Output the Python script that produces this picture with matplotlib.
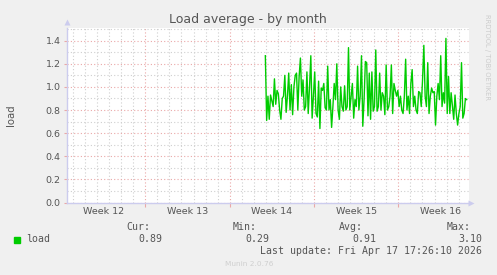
import numpy as np
import matplotlib
matplotlib.use('Agg')
import matplotlib.pyplot as plt
from matplotlib.ticker import MultipleLocator

# --- data ---
week_labels = ['Week 12', 'Week 13', 'Week 14', 'Week 15', 'Week 16']
week_centers = [-3.5, 3.5, 10.5, 17.5, 24.5]      # days, 0 = start of week 13
week_bounds = [0, 7, 14, 21]
data_start_day, data_end_day = 9.96, 26.67

# load average samples, left to right (one list per stretch of the plot)
load_part1 = [1.27, 0.71, 0.92, 0.72, 0.93, 0.88, 0.83, 1.07, 0.85, 0.97, 0.94, 0.80, 0.72,
              0.90, 0.92, 1.10, 0.78, 0.92, 1.12, 0.80, 1.02, 0.76, 1.00, 1.10, 1.12, 0.80,
              1.09, 1.25, 0.92, 1.06, 0.80, 0.83, 1.13, 0.77, 1.00, 1.27, 0.73, 0.92]
load_part2 = [1.13, 0.77, 0.74, 1.05, 0.64, 0.99, 0.97, 1.03, 0.82, 0.80, 1.18, 0.80, 0.89,
              0.65, 0.83, 1.03, 0.89, 1.20, 0.80, 0.72, 1.00, 0.83, 0.79, 1.01, 0.80, 0.83,
              1.34, 0.80, 0.92, 1.03, 0.73, 0.89, 0.83, 1.18, 0.80, 0.92, 1.27, 0.66, 0.89, 1.22]
load_part3 = [1.21, 0.75, 1.12, 0.72, 1.13, 0.79, 0.83, 1.32, 0.79, 0.83, 1.12, 0.80, 0.95,
              0.92, 0.76, 1.19, 0.80, 0.83, 0.92, 1.19, 0.77, 1.03, 0.97, 0.92, 0.97, 0.83,
              0.92, 0.80, 0.77, 0.92, 1.24, 0.80, 0.92, 0.77, 1.03, 1.15, 0.83, 0.92, 0.80]
load_part4 = [0.77, 0.96, 0.95, 0.83, 1.06, 1.36, 0.92, 0.83, 1.21, 0.77, 0.92, 0.99, 0.95,
              0.96, 0.67, 0.92, 1.03, 0.89, 1.27, 0.83, 0.95, 0.86, 1.42, 0.77, 1.09, 0.77,
              0.95, 0.83, 0.72, 0.93, 0.77, 0.67, 0.77, 0.83, 1.21, 0.73, 0.77, 0.90, 0.89]

stat_names = ['Cur:', 'Min:', 'Avg:', 'Max:']
stat_values = ['0.89', '0.29', '0.91', '3.10']
last_update = 'Last update: Fri Apr 17 17:26:10 2026'

load = np.array(load_part1 + load_part2 + load_part3 + load_part4)
days = np.linspace(data_start_day, data_end_day, len(load))

# --- figure ---
W, H = 497, 275
bg = '#f0f0f0'
txt = '#555555'
fig = plt.figure(figsize=(W / 100, H / 100), dpi=100, facecolor=bg)
L, R, T, B = 67, 469, 28, 202.5
ax = fig.add_axes([L / W, 1 - B / H, (R - L) / W, (B - T) / H])
ax.set_facecolor('white')

ax.plot(days, load, color='#00cc00', lw=1.0, zorder=3)

ax.set_xlim(-6.5, 26.86)
ax.set_ylim(0, 1.51)

ax.yaxis.set_major_locator(MultipleLocator(0.2))
ax.yaxis.set_minor_locator(MultipleLocator(0.1))
ax.set_xticks(week_bounds)
ax.set_xticks(np.arange(-6, 27), minor=True)
ax.set_xticklabels([])
ax.set_yticks(np.arange(0, 1.41, 0.2))
ax.set_yticklabels(['%.1f' % v for v in np.arange(0, 1.41, 0.2)], fontsize=6.8, color=txt)

ax.grid(which='major', color='#eaa8a8', ls=(0, (1, 2)), lw=0.8)
ax.grid(which='minor', color='#cfcfcf', ls=(0, (1, 2)), lw=0.8)
ax.tick_params(which='major', length=2.5, color='#eaa8a8', pad=2)
ax.tick_params(which='minor', length=0)
ax.tick_params(axis='x', which='major', length=3)

for s in ['top', 'right']:
    ax.spines[s].set_visible(False)
for s in ['left', 'bottom']:
    ax.spines[s].set_color('#ccccee')
    ax.spines[s].set_linewidth(1)
ax.set_axisbelow(True)

# axis arrows
ax.plot([0], [1.035], transform=ax.transAxes, marker='^', ms=4.5, color='#ccccee',
        clip_on=False, mec='none')
ax.plot([1.006], [0], transform=ax.transAxes, marker='>', ms=4.5, color='#ccccee',
        clip_on=False, mec='none')

for lbl, c in zip(week_labels, week_centers):
    ax.text(c, -0.05, lbl, transform=ax.get_xaxis_transform(), ha='center', va='center',
            fontsize=6.8, color=txt)

ax.set_ylabel('load', fontsize=7.3, color=txt)
ax.yaxis.set_label_coords(-51 / (R - L), 0.5)

fig.text(248 / W, 1 - 19 / H, 'Load average - by month', ha='center', va='center',
         fontsize=9, color=txt)
fig.text(487 / W, 1 - 57 / H, 'RRDTOOL / TOBI OETIKER', rotation=270, ha='center',
         va='center', fontsize=4.9, color='#cccccc')

# legend / stats block
fig.patches.append(plt.Rectangle((14 / W, 1 - 242.7 / H), 6 / W, 6 / H,
                                 transform=fig.transFigure, color='#00cc00'))
mono = dict(family='DejaVu Sans Mono', fontsize=7.1, color=txt, va='center')
fig.text(26.5 / W, 1 - 239.5 / H, 'load', ha='left', **mono)
name_right = [150.5, 256.5, 363, 470.5]
val_right = [162.5, 269, 376, 482]
for n, v, xn, xv in zip(stat_names, stat_values, name_right, val_right):
    fig.text(xn / W, 1 - 227.5 / H, n, ha='right', **mono)
    fig.text(xv / W, 1 - 239.5 / H, v, ha='right', **mono)
fig.text(482 / W, 1 - 251.5 / H, last_update, ha='right', **mono)
fig.text(249 / W, 1 - 264.5 / H, 'Munin 2.0.76', ha='center', va='center',
         fontsize=5.3, color='#cfcfcf')

fig.savefig('out.png', dpi=100, facecolor=bg)
